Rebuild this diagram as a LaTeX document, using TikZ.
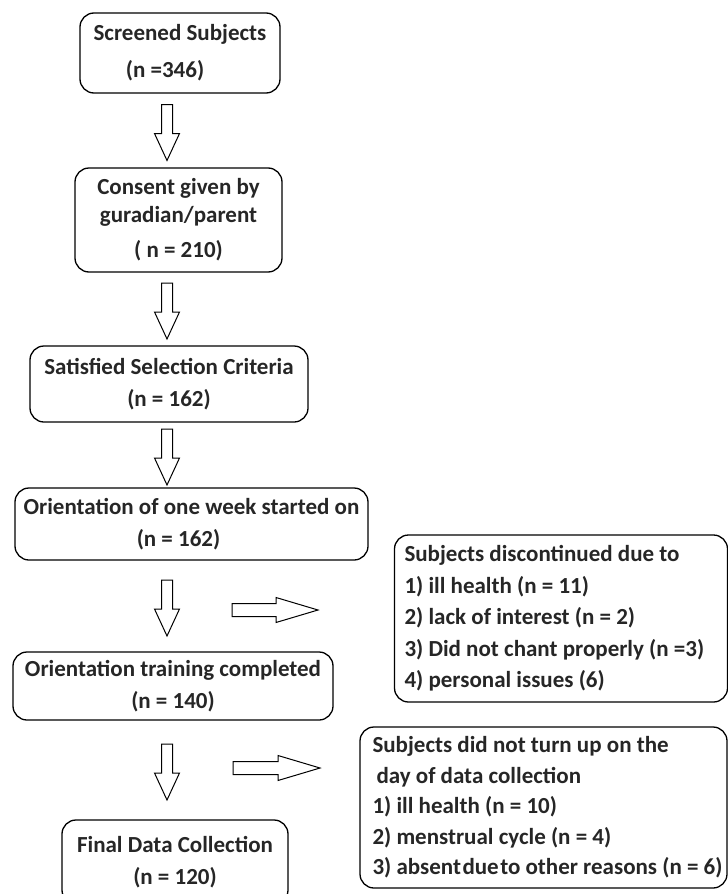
\documentclass[tikz,border=0pt]{standalone}
\usepackage{fontspec}
\setmainfont{Carlito}
\setlength{\parindent}{0pt}
\usetikzlibrary{calc}

\begin{document}
\begin{tikzpicture}[x=1pt, y=-1pt,
  stage/.style={draw, line width=1.3pt, rounded corners=14pt, inner sep=0pt,
    align=center, text=black!85, font=\bfseries\fontsize{23}{32}\selectfont},
  reason/.style={stage, align=flush left, font=\bfseries\fontsize{23}{31.5}\selectfont},
  down block/.style={draw, line width=1pt, to path={
    ($(\tikztostart)+(-5.5,0)$) -- ($(\tikztostart)+(5.5,0)$)
    -- ($(\tikztotarget)+(5.5,-27)$) -- ($(\tikztotarget)+(12.5,-27)$)
    -- (\tikztotarget) -- ($(\tikztotarget)+(-12.5,-27)$)
    -- ($(\tikztotarget)+(-5.5,-27)$) -- cycle}},
  right block/.style={draw, line width=1pt, to path={
    ($(\tikztostart)+(0,-6.5)$) -- ($(\tikztotarget)+(-42,-6.5)$)
    -- ($(\tikztotarget)+(-42,-12.5)$) -- (\tikztotarget)
    -- ($(\tikztotarget)+(-42,12.5)$) -- ($(\tikztotarget)+(-42,6.5)$)
    -- ($(\tikztostart)+(0,6.5)$) -- cycle}}]
  \clip (0,0) rectangle (728,894);

  % Main flow
  \node[stage, minimum width=200, minimum height=80] (scr) at (180,53)
    {Screened Subjects\\[5pt]\hspace*{-30pt}(n =346)};
  \node[stage, minimum width=207, minimum height=104] (cons) at (178.5,220)
    {Consent given by\\[-4pt]guradian/parent\\[3pt]( n = 210)};
  \node[stage, minimum width=278, minimum height=76] (sat) at (169,384)
    {Satisfied Selection Criteria\\(n = 162)};
  \node[stage, minimum width=353, minimum height=72] (ori) at (191.5,524)
    {Orientation of one week started on\\\hspace*{-26pt}(n = 162)};
  \node[stage, minimum width=320, minimum height=68] (train) at (173,686)
    {Orientation training completed\\(n = 140)};
  \node[stage, minimum width=226, minimum height=84] (final) at (175,862)
    {Final Data Collection\\(n = 120)};

  % Drop-outs
  \node[reason, text width=313, inner xsep=10pt, minimum height=167] (disc) at (561,618.5)
    {Subjects discontinued due to\\
     1) ill health (n = 11)\\
     2) lack of interest (n = 2)\\
     3) Did not chant properly (n =3)\\
     4) personal issues (6)};
  \node[reason, text width=342, inner xsep=12.5pt, minimum height=161] (absent) at (543.5,807.5)
    {Subjects did not turn up on the\\[-1pt]
     \hspace*{4pt}day of data collection\\[-1pt]
     1) ill health (n = 10)\\[-1pt]
     2) menstrual cycle (n = 4)\\[-1pt]
     \mbox{3) absent\hspace{1.5pt}due\hspace{1.5pt}to other reasons (n = 6)}};

  % Arrows
  \coordinate (axis) at (167,0);
  \foreach \a/\b in {scr/cons, cons/sat, sat/ori, ori/train, train/final} {
    \coordinate (mid-\a) at ($(\a.south -| axis)!0.5!(\b.north -| axis)$);
    \draw[down block] ($(mid-\a)+(0,-26)$) to ($(mid-\a)+(0,30)$);
  }
  \coordinate (out1) at (232,610);
  \coordinate (in1) at (318,610);
  \coordinate (out2) at (233,768);
  \coordinate (in2) at (320,768);
  \draw[right block] (out1) to (in1);
  \draw[right block] (out2) to (in2);
\end{tikzpicture}
\end{document}
